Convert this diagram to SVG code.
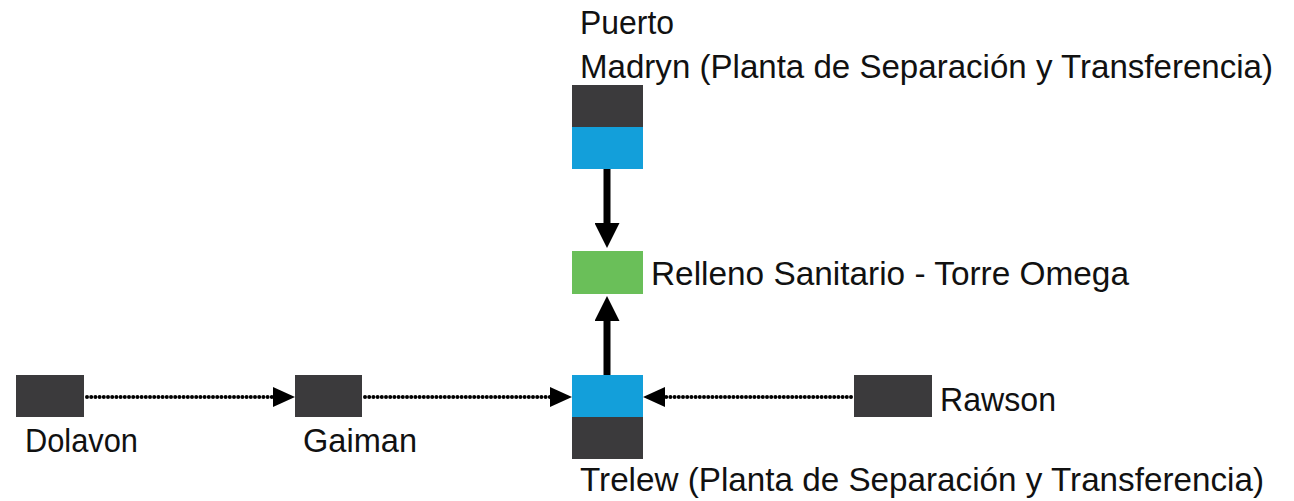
<svg xmlns="http://www.w3.org/2000/svg" width="1294" height="501" viewBox="0 0 1294 501">
<style>
.lbl{font-family:"Liberation Sans",Arial,sans-serif;font-size:33px;fill:#111}
.dark{fill:#3b3a3c}
.blue{fill:#139fda}
.green{fill:#6abf59}
.solid{stroke:#000;stroke-width:7;fill:none}
.dot{stroke:#000;stroke-width:4;fill:none;stroke-linecap:round;stroke-dasharray:0 4.2}
</style>
<defs>
<marker id="headS" markerUnits="userSpaceOnUse" viewBox="0 0 25 25" refX="0" refY="12.5" markerWidth="25" markerHeight="25" orient="auto">
<path d="M0,0 L25,12.5 L0,25 Z" fill="#000"/>
</marker>
<marker id="headD" markerUnits="userSpaceOnUse" viewBox="0 0 22 20" refX="0" refY="10" markerWidth="22" markerHeight="20" orient="auto">
<path d="M0,0 L22,10 L0,20 Z" fill="#000"/>
</marker>
</defs>
<rect width="1294" height="501" fill="#fff"/>
<g id="connectors">
<path class="solid" d="M607,169 L607,223" marker-end="url(#headS)"/>
<path class="solid" d="M607,375 L607,321" marker-end="url(#headS)"/>
<path class="dot" d="M87,397 L273,397" marker-end="url(#headD)"/>
<path class="dot" d="M365,397 L550,397" marker-end="url(#headD)"/>
<path class="dot" d="M851,397 L665,397" marker-end="url(#headD)"/>
</g>
<g id="puerto-madryn">
<rect class="dark" x="572" y="85" width="71" height="42"/>
<rect class="blue" x="572" y="127" width="71" height="42"/>
<text class="lbl" x="580" y="34" textLength="94" lengthAdjust="spacingAndGlyphs">Puerto</text>
<text class="lbl" x="580" y="78" textLength="693" lengthAdjust="spacingAndGlyphs">Madryn (Planta de Separación y Transferencia)</text>
</g>
<g id="relleno">
<rect class="green" x="572" y="251" width="71" height="43"/>
<text class="lbl" x="651" y="285" textLength="478" lengthAdjust="spacingAndGlyphs">Relleno Sanitario - Torre Omega</text>
</g>
<g id="trelew">
<rect class="blue" x="572" y="375" width="71" height="42"/>
<rect class="dark" x="572" y="417" width="71" height="42"/>
<text class="lbl" x="580" y="491" textLength="684" lengthAdjust="spacingAndGlyphs">Trelew (Planta de Separación y Transferencia)</text>
</g>
<g id="dolavon">
<rect class="dark" x="16" y="375" width="68" height="42"/>
<text class="lbl" x="25" y="452" textLength="113" lengthAdjust="spacingAndGlyphs">Dolavon</text>
</g>
<g id="gaiman">
<rect class="dark" x="295" y="375" width="67" height="42"/>
<text class="lbl" x="303" y="452" textLength="114" lengthAdjust="spacingAndGlyphs">Gaiman</text>
</g>
<g id="rawson">
<rect class="dark" x="854" y="375" width="78" height="42"/>
<text class="lbl" x="940" y="411" textLength="116" lengthAdjust="spacingAndGlyphs">Rawson</text>
</g>
</svg>
